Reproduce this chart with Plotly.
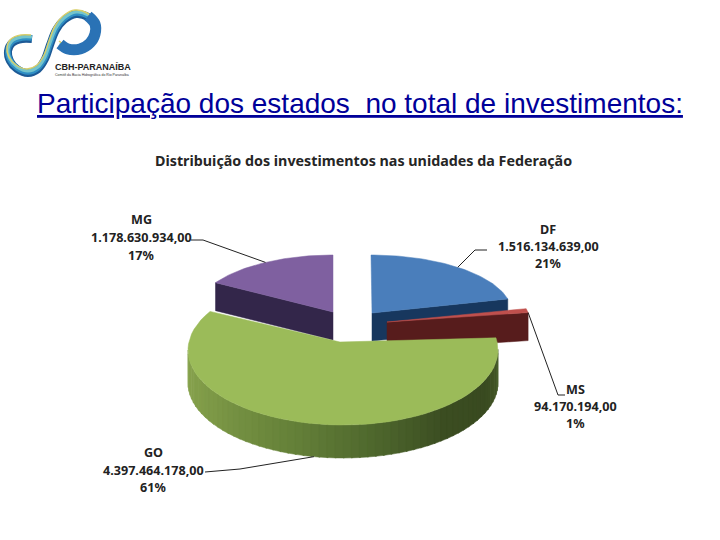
import numpy as np
import plotly.graph_objects as go

estados = ["DF", "MS", "GO", "MG"]
investimentos = [1516134639.00, 94170194.00, 4397464178.00, 1178630934.00]
percentuais = ["21%", "1%", "61%", "17%"]

titulo = "Participação dos estados  no total de investimentos:"
titulo_grafico = "Distribuição dos investimentos nas unidades da Federação"

# geometry of each exploded slice: apex, ellipse centre, radii, depth
apex = {"DF": (372, 313), "MS": (387, 322), "GO": (340, 342), "MG": (333, 312)}
centro = {"DF": (371, 313), "MS": (387, 322), "GO": (343, 350), "MG": (333, 312)}
raio = {"DF": (141, 58), "MS": (143, 58), "GO": (155, 75), "MG": (137, 57)}
prof = {"DF": 28, "MS": 28, "GO": 33, "MG": 28}
cor_topo = {"DF": "#4a7ebb", "MS": "#c0504d", "GO": "#9bbb59", "MG": "#7f60a0"}
cor_lado = {"DF": "#17375e", "MS": "#571c1c", "MG": "#33264a"}

# label block centre and line heights
rotulo_xy = {"DF": (548, (229, 246, 263)), "MS": (575, (389, 406, 423)),
             "GO": (153, (452, 470, 487)), "MG": (141, (219, 237, 255))}

# sweep angles from the values, clockwise from 12 o'clock
fracao = np.array(investimentos) / sum(investimentos)
fim = 90 - np.cumsum(fracao) * 360
ini = np.concatenate([[90], fim[:-1]])
angulos = {e: (ini[i], fim[i]) for i, e in enumerate(estados)}


def arco(e, a0, a1, n=60, dy=0):
    t = np.radians(np.linspace(a0, a1, n))
    cx, cy = centro[e]
    rx, ry = raio[e]
    return cx + rx * np.cos(t), cy - ry * np.sin(t) + dy


def poligono(fig, xs, ys, cor, borda=None):
    fig.add_trace(go.Scatter(x=xs, y=ys, mode="lines", fill="toself", fillcolor=cor,
                             line=dict(color=borda or cor, width=1 if borda else 0.5),
                             hoverinfo="skip", showlegend=False))


def fatia(fig, e):
    a0, a1 = angulos[e]
    x, y = arco(e, a0, a1)
    ax, ay = apex[e]
    poligono(fig, np.r_[ax, x, ax], np.r_[ay, y, ay], cor_topo[e])


def face_corte(fig, e, angulo):
    x, y = arco(e, angulo, angulo, n=1)
    ax, ay = apex[e]
    d = prof[e]
    poligono(fig, [ax, x[0], x[0], ax, ax], [ay, y[0], y[0] + d, ay + d, ay], cor_lado[e])


fig = go.Figure()

# logo
logo_x = [32, 22, 12, 8, 10, 17, 28, 38, 45, 50, 56, 64, 76, 88, 95, 95, 90, 80, 68, 60]
logo_y = [38, 38, 42, 50, 60, 68, 72, 68, 58, 44, 29, 19, 13, 16, 24, 34, 43, 49, 49, 44]
for cor, larg, dx, dy in [("#1d5a96", 8, 0, 1), ("#2f8fc4", 5.5, 0, 0), ("#74c4cc", 3, 0, -1),
                          ("#d9cf6a", 1.5, -1, -3)]:
    fig.add_trace(go.Scatter(x=[v + dx for v in logo_x], y=[v + dy for v in logo_y], mode="lines",
                             line=dict(color=cor, width=larg, shape="spline"),
                             hoverinfo="skip", showlegend=False))
# the upper loop widens towards its right side
fig.add_trace(go.Scatter(x=logo_x[13:], y=logo_y[13:], mode="lines",
                         line=dict(color="#2a72b5", width=11, shape="spline"),
                         hoverinfo="skip", showlegend=False))

# pie: back slices first, green on top
face_corte(fig, "MG", angulos["MG"][0])
fatia(fig, "MG")
face_corte(fig, "DF", angulos["DF"][1])
fatia(fig, "DF")
face_corte(fig, "MS", angulos["MS"][1])
fatia(fig, "MS")

# green side, shaded left to right
escala = [(180, "#8ba651"), (215, "#7c9846"), (250, "#66823a"), (280, "#50692e"),
          (310, "#3c4e22"), (335, "#394a20"), (360, "#4a5e2a")]
def tom(a):
    pos = [p[0] for p in escala]
    rgb = [[int(p[1][i:i + 2], 16) for i in (1, 3, 5)] for p in escala]
    return "rgb(%d,%d,%d)" % tuple(np.interp(a, pos, [c[k] for c in rgb]) for k in range(3))

passos = np.arange(180, 360, 3)
for a in passos:
    x, y = arco("GO", a, a + 3.5, n=4)
    x2, y2 = arco("GO", a + 3.5, a, n=4, dy=prof["GO"])
    poligono(fig, np.r_[x, x2, x[0]], np.r_[y, y2, y[0]], tom(a + 1.5))
fatia(fig, "GO")

# leader lines, from the rim at each slice's middle angle to its label
guias = {"DF": [(487, 250), (475, 250)], "MS": [(565, 395), (558, 395)],
         "GO": [(205, 472), (240, 469)], "MG": [(191, 240), (203, 240)]}
for e in estados:
    a0, a1 = angulos[e]
    meio = (a0 + a1) / 2
    dy = prof[e] if e == "GO" else 0
    if e == "MS":
        meio = a1
    x, y = arco(e, meio, meio, n=1, dy=dy)
    pts = guias[e] + [(x[0], y[0])]
    fig.add_trace(go.Scatter(x=[p[0] for p in pts], y=[p[1] for p in pts], mode="lines",
                             line=dict(color="#222222", width=1), hoverinfo="skip", showlegend=False))

# labels
fonte_rot = dict(family="Noto Sans", size=12.6, color="#222222")
notas = []
for i, e in enumerate(estados):
    cx, linhas = rotulo_xy[e]
    valor = f"{investimentos[i]:,.2f}".replace(",", "#").replace(".", ",").replace("#", ".")
    for txt, yy in zip([e, valor, percentuais[i]], linhas):
        notas.append(dict(x=cx, y=yy, xref="x", yref="y", text=f"<b>{txt}</b>", showarrow=False,
                          font=fonte_rot, xanchor="center", yanchor="middle"))

notas.append(dict(x=360, y=103, xref="x", yref="y", text=f"<u>{titulo}</u>", showarrow=False,
                  font=dict(family="Liberation Sans", size=28, color="#000099"),
                  xanchor="center", yanchor="middle"))
notas.append(dict(x=363, y=160, xref="x", yref="y", text=f"<b>{titulo_grafico}</b>", showarrow=False,
                  font=dict(family="Noto Sans", size=14.3, color="#262626"),
                  xanchor="center", yanchor="middle"))
notas.append(dict(x=53, y=67, xref="x", yref="y", text="<b>CBH-PARANAÍBA</b>", showarrow=False,
                  font=dict(family="Liberation Sans", size=9, color="#222222"),
                  xanchor="left", yanchor="middle"))
notas.append(dict(x=53, y=75, xref="x", yref="y", text="Comitê da Bacia Hidrográfica do Rio Paranaíba",
                  showarrow=False, font=dict(family="Liberation Sans", size=3.5, color="#333333"),
                  xanchor="left", yanchor="middle"))

fig.update_layout(
    width=720, height=540, margin=dict(l=0, r=0, t=0, b=0),
    paper_bgcolor="white", plot_bgcolor="white", showlegend=False,
    xaxis=dict(range=[0, 720], visible=False, fixedrange=True),
    yaxis=dict(range=[540, 0], visible=False, fixedrange=True),
    annotations=notas,
)

fig.write_html("out.html", config={"displayModeBar": False},
               post_script="document.body.style.margin='0';")
